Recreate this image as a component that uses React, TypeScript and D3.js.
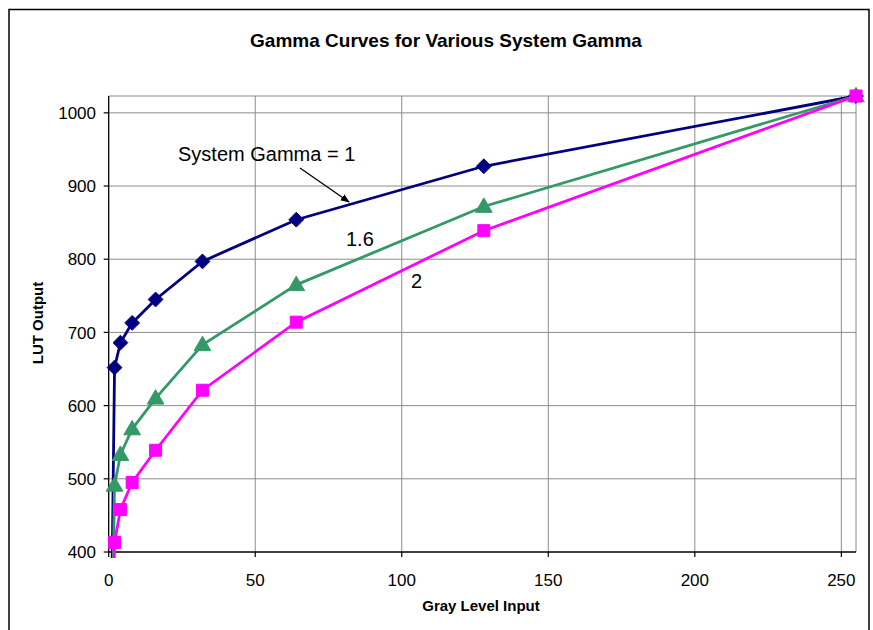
import React from "react";
import * as d3 from "d3";

const grayLevels = [0, 2, 4, 8, 16, 32, 64, 128, 255];
const gamma1 = [0, 652, 686, 713, 745, 797, 854, 927, 1023];
const gamma16 = [0, 491, 533, 568, 610, 683, 765, 872, 1023];
const gamma2 = [0, 413, 458, 495, 539, 621, 714, 839, 1023];
const xTicks = [0, 50, 100, 150, 200, 250];
const yTicks = [400, 500, 600, 700, 800, 900, 1000];

const W = 873;
const H = 630;
const M = { left: 108.7, right: 856, top: 96, bottom: 552 };

const series = [
  { name: "1", values: gamma1, color: "#000080", marker: "diamond" },
  { name: "1.6", values: gamma16, color: "#339966", marker: "triangle" },
  { name: "2", values: gamma2, color: "#FF00FF", marker: "square" },
];

export default function App() {
  const x = d3.scaleLinear().domain([0, 255]).range([M.left, M.right]);
  const y = d3.scaleLinear().domain([400, 1023]).range([M.bottom, M.top]);
  const font = "'Liberation Sans', Arial, sans-serif";

  const symbolFor = (m: string) => {
    if (m === "diamond") return d3.symbol().type(d3.symbolDiamond2).size(140)();
    if (m === "triangle") return d3.symbol().type(d3.symbolTriangle).size(120)();
    return d3.symbol().type(d3.symbolSquare).size(144)();
  };

  return (
    <svg
      width={W}
      height={H}
      style={{ position: "absolute", left: 0, top: 0, background: "#fff" }}
      fontFamily={font}
    >
      <defs>
        <clipPath id="plotClip">
          <rect x={M.left} y={M.top - 8} width={M.right - M.left + 8} height={M.bottom - M.top + 14} />
        </clipPath>
        <marker id="arrowHead" viewBox="0 0 10 10" refX="9" refY="5" markerWidth="7" markerHeight="7" orient="auto">
          <path d="M0,1 L10,5 L0,9 z" fill="#000" />
        </marker>
      </defs>
      <rect x={0} y={0} width={W} height={H} fill="#fff" />
      <rect x={9} y={9.5} width={860} height={H + 10} fill="none" stroke="#000" strokeWidth={1.5} />

      <text x={446} y={47} textAnchor="middle" fontSize={19} fontWeight="bold">
        Gamma Curves for Various System Gamma
      </text>

      {yTicks.filter((t) => t > 400).map((t) => (
        <line key={"gy" + t} x1={M.left} x2={M.right} y1={y(t)} y2={y(t)} stroke="#8c8c8c" strokeWidth={1} />
      ))}
      {xTicks.filter((t) => t > 0).map((t) => (
        <line key={"gx" + t} x1={x(t)} x2={x(t)} y1={M.top} y2={M.bottom} stroke="#8c8c8c" strokeWidth={1} />
      ))}
      <line x1={M.left} x2={M.right} y1={M.top} y2={M.top} stroke="#8c8c8c" strokeWidth={1} />
      <line x1={M.right} x2={M.right} y1={M.top} y2={M.bottom} stroke="#8c8c8c" strokeWidth={1} />

      <line x1={M.left} x2={M.left} y1={M.top} y2={M.bottom} stroke="#000" strokeWidth={1.3} />
      <line x1={M.left} x2={M.right} y1={M.bottom} y2={M.bottom} stroke="#000" strokeWidth={1.3} />
      {yTicks.map((t) => (
        <g key={"ty" + t}>
          <line x1={M.left - 5} x2={M.left} y1={y(t)} y2={y(t)} stroke="#000" strokeWidth={1.2} />
          <text x={96} y={y(t)} dy="0.36em" textAnchor="end" fontSize={17}>
            {t}
          </text>
        </g>
      ))}
      {xTicks.map((t) => (
        <g key={"tx" + t}>
          <line x1={x(t)} x2={x(t)} y1={M.bottom} y2={M.bottom + 5} stroke="#000" strokeWidth={1.2} />
          <text x={x(t)} y={586} textAnchor="middle" fontSize={17}>
            {t}
          </text>
        </g>
      ))}

      <text x={481} y={611} textAnchor="middle" fontSize={15} fontWeight="bold">
        Gray Level Input
      </text>
      <text transform={`translate(43, 323) rotate(-90)`} textAnchor="middle" fontSize={15} fontWeight="bold">
        LUT Output
      </text>

      {series.map((s) => {
        const pts = grayLevels.map((g, i) => [g, s.values[i]] as [number, number]);
        const line = d3
          .line<[number, number]>()
          .x((d) => x(d[0]))
          .y((d) => y(d[1]));
        return (
          <g key={s.name}>
            <path d={line(pts) || ""} fill="none" stroke={s.color} strokeWidth={2.8} clipPath="url(#plotClip)" />
            {pts
              .filter((d) => d[1] >= 400)
              .map((d, i) => (
                <path
                  key={i}
                  d={symbolFor(s.marker) || ""}
                  transform={`translate(${x(d[0])},${y(d[1]) + (s.marker === "triangle" ? 1 : 0)})`}
                  fill={s.color}
                  stroke={s.color}
                  strokeWidth={1}
                />
              ))}
          </g>
        );
      })}

      <text x={178} y={161} fontSize={20}>
        System Gamma = 1
      </text>
      <line x1={300} y1={168} x2={349} y2={202} stroke="#000" strokeWidth={1.3} markerEnd="url(#arrowHead)" />
      <text x={346} y={246} fontSize={20}>
        1.6
      </text>
      <text x={411} y={288} fontSize={20}>
        2
      </text>
    </svg>
  );
}
